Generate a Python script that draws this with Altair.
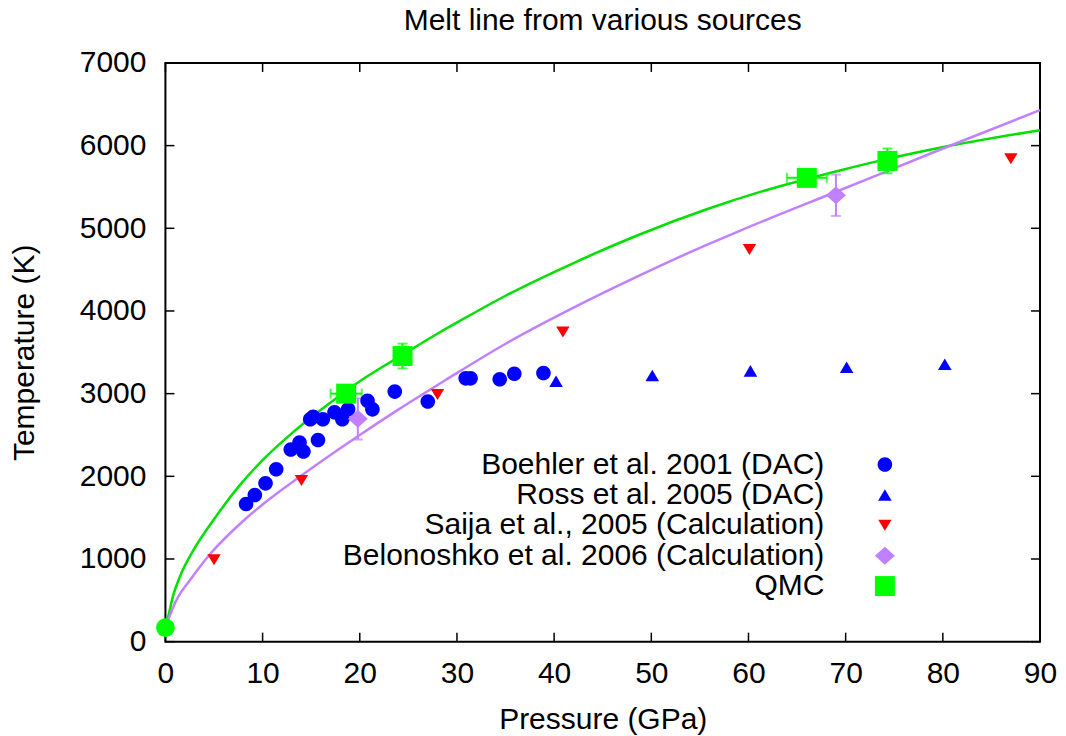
import altair as alt
import pandas as pd

W, H = 875, 579
FONT = "Liberation Sans"
FS = 30

# ---------------- data ----------------
title_text = "Melt line from various sources"
series = ["Boehler et al. 2001 (DAC)", "Ross et al. 2005 (DAC)",
          "Saija et al., 2005 (Calculation)", "Belonoshko et al. 2006 (Calculation)", "QMC"]
colors = ["#0000ff", "#0000ff", "#ff0000", "#c080ff", "#00ff00"]
# symbol outlines drawn inside the [-1, 1] box (box = 20 px at size 400)
shapes = [
    "M-0.73,0A0.73,0.73,0,1,0,0.73,0A0.73,0.73,0,1,0,-0.73,0Z",
    "M0,-0.58L0.68,0.58L-0.68,0.58Z",
    "M0,0.55L0.67,-0.55L-0.67,-0.55Z",
    "M-1,0L0,-0.9L1,0L0,0.9Z",
    "M-1,-1L1,-1L1,1L-1,1Z",
]

boehler_p = [8.3, 9.2, 10.3, 11.4, 12.9, 13.8, 14.2, 15.7, 14.9, 15.2, 16.2, 17.4,
             18.2, 18.8, 20.8, 21.3, 23.6, 27.0, 30.9, 31.4, 34.4, 35.9, 38.9]
boehler_t = [1665, 1775, 1915, 2085, 2325, 2410, 2300, 2440, 2690, 2720, 2690, 2775,
             2690, 2810, 2915, 2810, 3025, 2905, 3185, 3185, 3175, 3240, 3250]
ross_p = [40.2, 50.1, 60.2, 70.1, 80.2]
ross_t = [3150, 3220, 3275, 3320, 3355]
saija_p = [5.0, 14.0, 28.0, 40.9, 60.1, 87.0]
saija_t = [990, 1950, 2990, 3745, 4745, 5840]
belon_p = [19.8, 69.0]
belon_t = [2695, 5400]
belon_terr = [250, 250]
qmc_p = [18.6, 24.4, 66.0, 74.3]
qmc_t = [3000, 3455, 5610, 5815]
qmc_perr = [1.6, 0.0, 2.05, 0.0]
qmc_terr = [0, 150, 0, 150]
ambient_p = [0.0]
ambient_t = [170]

# fitted melt lines
green_p = [0, 0.3, 0.8, 1.5, 2.9, 5, 7.7, 10, 13.2, 17.3, 20, 24.4, 28.2, 30.3,
           35.1, 42, 48.8, 55.7, 61.2, 69.4, 74.3, 79.7, 90]
green_t = [170, 310, 560, 790, 1110, 1480, 1900, 2195, 2540, 2920, 3150, 3470, 3740, 3880,
           4190, 4580, 4925, 5230, 5440, 5700, 5840, 5975, 6187]
purple_p = [0, 0.3, 0.7, 1.3, 2.5, 4.6, 8, 10, 14, 20, 24, 28.9, 35.1, 42, 48.8,
            55.7, 59.1, 69.4, 79.7, 90]
purple_t = [170, 270, 390, 540, 740, 1060, 1460, 1660, 2010, 2500, 2810, 3170, 3610, 4040, 4430,
            4800, 4970, 5460, 5950, 6430]

x_ticks = list(range(0, 91, 10))
y_ticks = list(range(0, 7001, 1000))

# ---------------- frames ----------------
pts = pd.concat([
    pd.DataFrame({"series": series[0], "P": boehler_p, "T": boehler_t}),
    pd.DataFrame({"series": series[1], "P": ross_p, "T": ross_t}),
    pd.DataFrame({"series": series[2], "P": saija_p, "T": saija_t}),
    pd.DataFrame({"series": series[3], "P": belon_p, "T": belon_t}),
    pd.DataFrame({"series": series[4], "P": qmc_p, "T": qmc_t}),
], ignore_index=True)

belon_df = pd.DataFrame({"P": belon_p, "lo": [t - e for t, e in zip(belon_t, belon_terr)],
                         "hi": [t + e for t, e in zip(belon_t, belon_terr)]})
qv = [(p, t - e, t + e) for p, t, e in zip(qmc_p, qmc_t, qmc_terr) if e > 0]
qmc_v = pd.DataFrame(qv, columns=["P", "lo", "hi"])
qh = [(t, p - e, p + e) for p, t, e in zip(qmc_p, qmc_t, qmc_perr) if e > 0]
qmc_h = pd.DataFrame(qh, columns=["T", "lo", "hi"])

xs = alt.Scale(domain=[0, 90], nice=False, zero=False)
ys = alt.Scale(domain=[0, 7000], nice=False, zero=False)

xaxis = alt.Axis(values=x_ticks, ticks=False, tickSize=0, domain=False, grid=False, format="d",
                 labelFont=FONT, labelFontSize=FS, labelColor="black", labelPadding=41,
                 labelBaseline="alphabetic", labelFlush=False,
                 title="Pressure (GPa)", titleFont=FONT, titleFontSize=FS, titleFontWeight="normal",
                 titleColor="black", titleX=W / 2, titleY=86.6, titleBaseline="alphabetic",
                 titleAlign="center")
yaxis = alt.Axis(values=y_ticks, ticks=False, tickSize=0, domain=False, grid=False, format="d",
                 labelFont=FONT, labelFontSize=FS, labelColor="black", labelPadding=19.5,
                 labelFlush=False,
                 title="Temperature (K)", titleFont=FONT, titleFontSize=FS, titleFontWeight="normal",
                 titleColor="black", titleAngle=270, titleX=-132, titleY=H / 2,
                 titleBaseline="alphabetic", titleAlign="center")

green_line = alt.Chart(pd.DataFrame({"P": green_p, "T": green_t})).mark_line(
    color="#00e000", strokeWidth=2.5, interpolate="monotone").encode(
    x=alt.X("P:Q", scale=xs, axis=xaxis), y=alt.Y("T:Q", scale=ys, axis=yaxis))
purple_line = alt.Chart(pd.DataFrame({"P": purple_p, "T": purple_t})).mark_line(
    color="#c080ff", strokeWidth=2.5, interpolate="monotone").encode(
    x=alt.X("P:Q", scale=xs), y=alt.Y("T:Q", scale=ys))


def vbars(df, color):
    rule = alt.Chart(df).mark_rule(color=color, strokeWidth=2).encode(
        x=alt.X("P:Q", scale=xs), y=alt.Y("lo:Q", scale=ys), y2="hi:Q")
    cap_lo = alt.Chart(df).mark_tick(color=color, size=10, thickness=2, orient="horizontal").encode(
        x=alt.X("P:Q", scale=xs), y=alt.Y("lo:Q", scale=ys))
    cap_hi = alt.Chart(df).mark_tick(color=color, size=10, thickness=2, orient="horizontal").encode(
        x=alt.X("P:Q", scale=xs), y=alt.Y("hi:Q", scale=ys))
    return [rule, cap_lo, cap_hi]


def hbars(df, color):
    rule = alt.Chart(df).mark_rule(color=color, strokeWidth=2).encode(
        y=alt.Y("T:Q", scale=ys), x=alt.X("lo:Q", scale=xs), x2="hi:Q")
    cap_lo = alt.Chart(df).mark_tick(color=color, size=10, thickness=2, orient="vertical").encode(
        y=alt.Y("T:Q", scale=ys), x=alt.X("lo:Q", scale=xs))
    cap_hi = alt.Chart(df).mark_tick(color=color, size=10, thickness=2, orient="vertical").encode(
        y=alt.Y("T:Q", scale=ys), x=alt.X("hi:Q", scale=xs))
    return [rule, cap_lo, cap_hi]


leg = alt.Legend(title=None)
points = alt.Chart(pts).mark_point(filled=True, opacity=1, strokeWidth=0, size=400).encode(
    x=alt.X("P:Q", scale=xs), y=alt.Y("T:Q", scale=ys),
    color=alt.Color("series:N", scale=alt.Scale(domain=series, range=colors), legend=leg),
    shape=alt.Shape("series:N", scale=alt.Scale(domain=series, range=shapes), legend=leg),
)

ambient = alt.Chart(pd.DataFrame({"P": ambient_p, "T": ambient_t})).mark_point(
    filled=True, opacity=1, color="#00ff00", size=350, shape="circle").encode(
    x=alt.X("P:Q", scale=xs), y=alt.Y("T:Q", scale=ys))

xt = pd.DataFrame({"v": x_ticks})
yt = pd.DataFrame({"v": y_ticks})
tick_b = alt.Chart(xt).mark_rule(color="black", strokeWidth=1.5).encode(
    x=alt.X("v:Q", scale=xs), y=alt.value(H), y2=alt.value(H - 9))
tick_t = alt.Chart(xt).mark_rule(color="black", strokeWidth=1.5).encode(
    x=alt.X("v:Q", scale=xs), y=alt.value(0), y2=alt.value(9))
tick_l = alt.Chart(yt).mark_rule(color="black", strokeWidth=1.5).encode(
    y=alt.Y("v:Q", scale=ys), x=alt.value(0), x2=alt.value(9))
tick_r = alt.Chart(yt).mark_rule(color="black", strokeWidth=1.5).encode(
    y=alt.Y("v:Q", scale=ys), x=alt.value(W - 9), x2=alt.value(W))

title_mark = alt.Chart(pd.DataFrame({"t": [title_text]})).mark_text(
    font=FONT, fontSize=FS, color="black", align="center", baseline="alphabetic").encode(
    x=alt.value(W / 2), y=alt.value(-33.3), text="t:N")

layers = [green_line, purple_line, tick_b, tick_t, tick_l, tick_r]
layers += vbars(belon_df, "#c080ff") + vbars(qmc_v, "#00ff00") + hbars(qmc_h, "#00ff00")
layers += [points, ambient, title_mark]

chart = alt.layer(*layers).properties(
    width=W, height=H,
    autosize=alt.AutoSizeParams(type="none"),
    padding={"left": 157.5, "top": 54.8, "right": 18, "bottom": 95},
).configure_view(stroke="black", strokeWidth=2).configure_legend(
    orient="none", legendX=704.8, legendY=386.8, direction="vertical",
    labelFont=FONT, labelFontSize=FS, labelColor="black", labelAlign="right",
    labelOffset={"expr": "-75.6"}, labelLimit=700, padding=0, rowPadding=0.4,
    symbolStrokeWidth=0, symbolOpacity=1, symbolSize=400,
)

chart.save("out.html", embed_options={"renderer": "svg", "actions": False})
